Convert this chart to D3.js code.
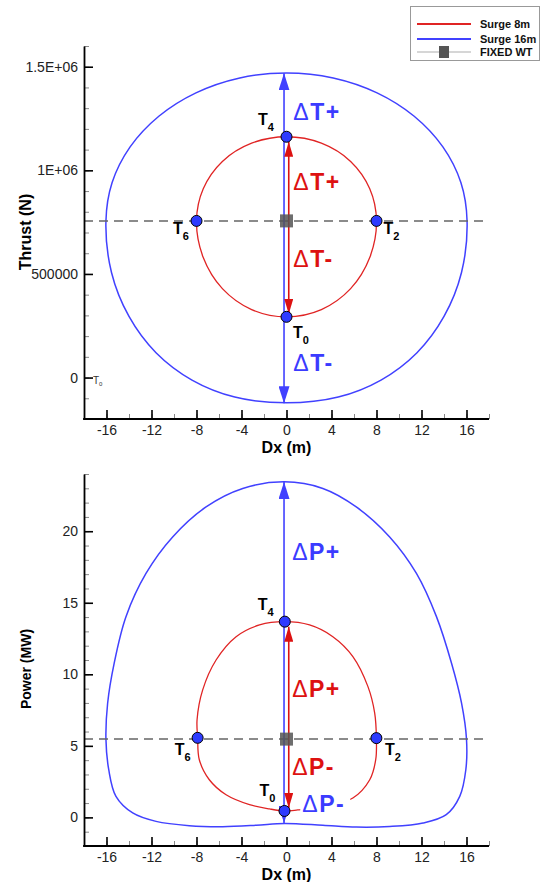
<!DOCTYPE html>
<html><head><meta charset="utf-8">
<script src="https://cdn.jsdelivr.net/npm/d3@7/dist/d3.min.js"></script>
<style>
body{margin:0;background:#fff}
svg{display:block}
text{font-family:"Liberation Sans",Arial,Helvetica,sans-serif}
</style>
</head><body>
<svg id="c" width="542" height="882"></svg>
<script>
// ---------------- DATA ----------------
const seriesNames = ["Surge 8m", "Surge 16m", "FIXED WT"];
const dxTicks = [-16, -12, -8, -4, 0, 4, 8, 12, 16];
const dxTickLabels = ["-16", "-12", "-8", "-4", "0", "4", "8", "12", "16"];
const thrustTicks = [0, 500000, 1000000, 1500000];
const thrustTickLabels = ["0", "500000", "1E+06", "1.5E+06"];
const powerTicks = [0, 5, 10, 15, 20];
const powerTickLabels = ["0", "5", "10", "15", "20"];

const thrustFixed = 756000;   // N
const powerFixed = 5.47;      // MW

// [Dx (m), Thrust (N)] read around each loop
const thrustSurge8 = [
  [0, 293000], [3.1, 328000], [5.7, 429000], [7.4, 579000], [8.0, 756000],
  [7.4, 911000], [5.7, 1043000], [3.1, 1131000], [0, 1162000], [-3.1, 1131000],
  [-5.7, 1043000], [-7.4, 911000], [-8.0, 756000], [-7.4, 579000], [-5.7, 429000],
  [-3.1, 328000]
];
const thrustSurge16 = [
  [0, -122000], [4.6, -94000], [8.4, -12000], [11.6, 120000], [14.0, 295000],
  [15.55, 506000], [16.05, 756000], [15.5, 941000], [13.9, 1113000], [11.35, 1261000],
  [8.05, 1374000], [4.15, 1446000], [0, 1470000], [-4.15, 1446000], [-8.05, 1374000],
  [-11.35, 1261000], [-13.9, 1113000], [-15.5, 941000], [-16.05, 756000], [-15.55, 506000],
  [-14.0, 295000], [-11.6, 120000], [-8.4, -12000], [-4.6, -94000]
];
// [Dx (m), Power (MW)]
const powerSurge8 = [
  [-0.18, 0.45], [1.0, 0.52], [3.8, 0.82], [5.9, 1.35], [7.4, 2.63], [7.93, 4.03],
  [7.99, 5.54], [7.84, 7.29], [7.24, 9.14], [5.9, 11.24], [4.12, 12.63], [2.05, 13.45],
  [-0.15, 13.68], [-2.4, 13.45], [-4.48, 12.63], [-6.26, 11.0], [-7.45, 8.91],
  [-7.95, 6.82], [-7.9, 5.56], [-7.75, 4.03], [-6.86, 2.63], [-5.37, 1.58],
  [-3.29, 0.89], [-1.51, 0.59]
];
const powerSurge16 = [
  [-0.18, -0.42], [3.23, -0.55], [6.2, -0.68], [9.17, -0.64], [12.14, -0.39],
  [14.2, 0.19], [15.4, 1.47], [15.94, 3.33], [16.0, 5.47], [15.56, 7.98],
  [14.67, 10.77], [13.33, 14.03], [11.55, 17.05], [9.17, 19.6], [6.2, 21.7],
  [3.23, 22.99], [-0.18, 23.45], [-3.89, 22.99], [-7.15, 21.7], [-10.12, 19.6],
  [-12.49, 17.05], [-14.27, 14.03], [-15.32, 10.77], [-15.9, 7.98], [-16.05, 5.47],
  [-15.8, 3.33], [-15.16, 1.47], [-13.67, 0.31], [-11.6, -0.28], [-8.64, -0.58],
  [-5.67, -0.65], [-2.7, -0.55]
];

// phase markers [label, subscript, Dx, value]
const thrustPhases = [["T", "0", 0, 293000], ["T", "2", 8.0, 756000], ["T", "4", 0, 1162000], ["T", "6", -8.0, 756000]];
const powerPhases = [["T", "0", -0.18, 0.45], ["T", "2", 7.99, 5.54], ["T", "4", -0.15, 13.68], ["T", "6", -7.9, 5.56]];

// arrow extents [from, to]
const thrustRange16 = [-124000, 1468000];
const thrustRange8 = [307000, 1138000];
const powerRange16 = [-0.39, 23.44];
const powerRange8 = [0.66, 13.33];

// annotation texts [letter+sign, series, Dx, value]
const thrustNotes = [["T+", "Surge 16m", 0.6, 1243000], ["T+", "Surge 8m", 0.6, 905000],
                     ["T-", "Surge 8m", 0.6, 533000], ["T-", "Surge 16m", 0.6, 31600]];
const powerNotes = [["P+", "Surge 16m", 0.5, 18.0], ["P+", "Surge 8m", 0.5, 8.41],
                    ["P-", "Surge 8m", 0.5, 2.96], ["P-", "Surge 16m", 1.4, 0.38]];

// ---------------- STYLE ----------------
const RED = "#e02424", BLUE = "#4141ff", BLUE_TXT = "#3b3bff", RED_TXT = "#dd1111";
const colorOf = {"Surge 8m": RED, "Surge 16m": BLUE};
const txtColorOf = {"Surge 8m": RED_TXT, "Surge 16m": BLUE_TXT};

const svg = d3.select("#c");
const defs = svg.append("defs");
function arrowMarker(id, color, len, wid) {
  const m = defs.append("marker").attr("id", id)
    .attr("markerUnits", "userSpaceOnUse")
    .attr("viewBox", `0 0 ${len} ${wid}`)
    .attr("markerWidth", len).attr("markerHeight", wid)
    .attr("refX", len).attr("refY", wid / 2)
    .attr("orient", "auto-start-reverse");
  m.append("path").attr("d", `M0,0 L${len},${wid/2} L0,${wid} Z`).attr("fill", color);
}
arrowMarker("ab", BLUE, 17, 11);
arrowMarker("ar", "#dd1111", 15, 9);

const xRange = [84, 489];

function panel(cfg) {
  const x = d3.scaleLinear().domain([-18, 18]).range(xRange);
  const y = d3.scaleLinear().domain(cfg.yDomain).range(cfg.yRange);
  const g = svg.append("g");

  // minor ticks
  const minorY = d3.range(cfg.yDomain[0], cfg.yDomain[1] + 1e-9, cfg.minor);
  g.append("g").attr("transform", `translate(${xRange[0]},0)`)
    .call(d3.axisLeft(y).tickValues(minorY).tickSize(-5).tickSizeOuter(0).tickFormat(""))
    .call(s => s.select(".domain").remove())
    .call(s => s.selectAll("line").attr("stroke", "#888").attr("stroke-width", 1));
  g.append("g").attr("transform", `translate(0,${cfg.yRange[0]})`)
    .call(d3.axisBottom(x).tickValues(d3.range(-18, 18.01, 2)).tickSize(-5).tickSizeOuter(0).tickFormat(""))
    .call(s => s.select(".domain").remove())
    .call(s => s.selectAll("line").attr("stroke", "#888").attr("stroke-width", 1));

  // curves
  const line = d3.line().x(d => x(d[0])).y(d => y(d[1])).curve(d3.curveCatmullRomClosed.alpha(0.5));
  g.append("path").datum(cfg.s16).attr("d", line).attr("fill", "none")
    .attr("stroke", BLUE).attr("stroke-width", 1.5);
  g.append("path").datum(cfg.s8).attr("d", line).attr("fill", "none")
    .attr("stroke", RED).attr("stroke-width", 1.3);

  // fixed line
  g.append("line").attr("x1", x(-18)).attr("x2", x(18))
    .attr("y1", y(cfg.fixed)).attr("y2", y(cfg.fixed))
    .attr("stroke", "#666").attr("stroke-width", 1.5).attr("stroke-dasharray", "9,6");

  // arrows
  g.append("line").attr("x1", x(-0.22)).attr("x2", x(-0.22))
    .attr("y1", y(cfg.r16[0])).attr("y2", y(cfg.r16[1]))
    .attr("stroke", BLUE).attr("stroke-width", 1.6)
    .attr("marker-start", "url(#ab)").attr("marker-end", "url(#ab)");
  g.append("line").attr("x1", x(0.2)).attr("x2", x(0.2))
    .attr("y1", y(cfg.r8[0])).attr("y2", y(cfg.r8[1]))
    .attr("stroke", "#dd1111").attr("stroke-width", 1.6)
    .attr("marker-start", "url(#ar)").attr("marker-end", "url(#ar)");

  // fixed WT square
  g.append("rect").attr("x", x(0) - 6.5).attr("y", y(cfg.fixed) - 6.5)
    .attr("width", 13).attr("height", 13).attr("fill", "#555").attr("opacity", 0.85);

  // white box behind annotation that hides curve
  cfg.notes.forEach((n, i) => {
    if (cfg.maskNote === i) {
      g.append("rect").attr("x", x(n[2]) - 2).attr("y", y(n[3]) - 17)
        .attr("width", 50).attr("height", 19).attr("fill", "#fff");
    }
  });

  // phase markers
  g.selectAll("circle.ph").data(cfg.phases).join("circle").attr("class", "ph")
    .attr("cx", d => x(d[2])).attr("cy", d => y(d[3])).attr("r", 5.5)
    .attr("fill", "#2e3bff").attr("stroke", "#000").attr("stroke-width", 1);

  // phase labels
  cfg.phases.forEach((d, i) => {
    const off = cfg.labelOff[i];
    const t = g.append("text").attr("x", x(d[2]) + off[0]).attr("y", y(d[3]) + off[1])
      .attr("font-size", 16).attr("font-weight", "bold").attr("fill", "#000");
    t.append("tspan").text(d[0]);
    t.append("tspan").attr("font-size", 11).attr("dy", 6).text(d[1]);
  });

  // annotations
  cfg.notes.forEach(n => {
    const t = g.append("text").attr("x", x(n[2])).attr("y", y(n[3]))
      .attr("font-size", 23).attr("font-weight", "bold").attr("fill", txtColorOf[n[1]])
      .attr("letter-spacing", 1.5);
    t.append("tspan").attr("font-weight", "normal").text("\u0394");
    t.append("tspan").text(n[0]);
  });

  // major axes
  const ax = g.append("g").attr("transform", `translate(${xRange[0]},0)`)
    .call(d3.axisLeft(y).tickValues(cfg.yTicks).tickFormat((d, i) => cfg.yLabels[i])
      .tickSize(-9).tickSizeOuter(0).tickPadding(6));
  const bx = g.append("g").attr("transform", `translate(0,${cfg.yRange[0]})`)
    .call(d3.axisBottom(x).tickValues(dxTicks).tickFormat((d, i) => dxTickLabels[i])
      .tickSize(-9).tickSizeOuter(0).tickPadding(6));
  [ax, bx].forEach(a => {
    a.select(".domain").attr("stroke", "#000").attr("stroke-width", 1.8);
    a.selectAll(".tick line").attr("stroke", "#000").attr("stroke-width", 1.6);
    a.selectAll("text").attr("font-size", 14).attr("fill", "#222")
      .attr("font-family", '"Liberation Sans",Arial,sans-serif');
  });
  bx.select(".domain").attr("d", `M${xRange[0] - 0.9},0H${xRange[1]}`);

  // axis titles
  g.append("text").attr("x", x(0)).attr("y", cfg.yRange[0] + 34)
    .attr("text-anchor", "middle").attr("font-size", 16).attr("font-weight", "bold")
    .text("Dx (m)");
  g.append("text").attr("transform", `translate(31,${cfg.titleY}) rotate(-90)`)
    .attr("text-anchor", "middle").attr("font-size", cfg.titleSize).attr("font-weight", "bold")
    .text(cfg.title);

  return {x, y, g};
}

const thrustPanel = panel({
  yDomain: [-200000, 1600000], yRange: [419, 46], minor: 100000,
  yTicks: thrustTicks, yLabels: thrustTickLabels,
  s8: thrustSurge8, s16: thrustSurge16, fixed: thrustFixed,
  r16: thrustRange16, r8: thrustRange8, phases: thrustPhases,
  labelOff: [[6.5, 21], [7, 13], [-28.5, -12], [-23.5, 13]],
  notes: thrustNotes, maskNote: -1,
  title: "Thrust (N)", titleY: 232, titleSize: 16
});
// tiny stray label near origin
const tl = thrustPanel.g.append("text").attr("x", thrustPanel.x(-17.2)).attr("y", thrustPanel.y(-30000))
  .attr("font-size", 10).attr("fill", "#333");
tl.append("tspan").text("T");
tl.append("tspan").attr("font-size", 6).attr("dy", 2).text("0");

const powerPanel = panel({
  yDomain: [-2, 24], yRange: [846, 474], minor: 1,
  yTicks: powerTicks, yLabels: powerTickLabels,
  s8: powerSurge8, s16: powerSurge16, fixed: powerFixed,
  r16: powerRange16, r8: powerRange8, phases: powerPhases,
  labelOff: [[-25, -14.5], [8.5, 17], [-27, -12], [-23, 17]],
  notes: powerNotes, maskNote: 3,
  title: "Power (MW)", titleY: 669, titleSize: 14
});

// ---------------- LEGEND ----------------
const lg = svg.append("g");
lg.append("rect").attr("x", 410.5).attr("y", 6.5).attr("width", 129).attr("height", 54)
  .attr("fill", "#fff").attr("stroke", "#999").attr("stroke-width", 1);
const legendRows = [24, 39, 52];
seriesNames.forEach((name, i) => {
  const yy = legendRows[i];
  if (i < 2) {
    lg.append("line").attr("x1", 417).attr("x2", 471).attr("y1", yy).attr("y2", yy)
      .attr("stroke", colorOf[name]).attr("stroke-width", 2);
  } else {
    lg.append("line").attr("x1", 417).attr("x2", 471).attr("y1", yy).attr("y2", yy)
      .attr("stroke", "#c8c8c8").attr("stroke-width", 1.5);
    lg.append("rect").attr("x", 439).attr("y", yy - 6).attr("width", 10).attr("height", 12)
      .attr("fill", "#555");
  }
  lg.append("text").attr("x", 480).attr("y", yy + 4).attr("font-size", 11)
    .attr("font-weight", "bold").attr("fill", "#111").text(name);
});
</script>
</body></html>
